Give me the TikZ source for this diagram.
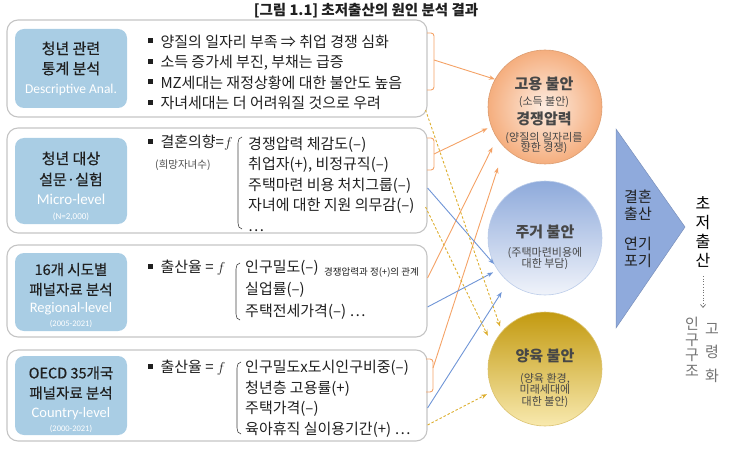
\documentclass[tikz,border=0pt]{standalone}
\usepackage{fontspec}
\setmainfont{Noto Sans CJK KR}
\newfontfamily\engfont{Carlito}
\newfontfamily\boxfont[FakeBold=0.5]{Noto Sans CJK KR}
\usetikzlibrary{arrows.meta,positioning,calc}

\definecolor{srcblue}{HTML}{A9CDE4}
\definecolor{panelgray}{HTML}{C4C4C4}
\definecolor{linkorange}{HTML}{F4A266}
\definecolor{linkblue}{HTML}{6F95D6}
\definecolor{linkgold}{HTML}{DDAE2E}
\definecolor{jobout}{HTML}{F5AE7E}
\definecolor{jobin}{HTML}{FDEDE2}
\definecolor{houtop}{HTML}{8EAADB}
\definecolor{houbot}{HTML}{F0F3FA}
\definecolor{kidtop}{HTML}{C39A10}
\definecolor{kidbot}{HTML}{F8E9AE}
\definecolor{trifill}{HTML}{8FAADC}

\newcommand{\bul}{\rule[0.28em]{0.32em}{0.32em}\hspace{0.5em}}
\newcommand{\bigb}{\fontsize{15}{17}\selectfont\bfseries}
\newcommand{\tightlines}{\setlength{\lineskiplimit}{-20pt}}

\begin{document}
\begin{tikzpicture}[x=1pt, y=-1pt,
  >={Stealth[length=6pt,width=4.5pt]},
  every node/.style={inner sep=0pt, text=black!88},
  panel/.style={draw=panelgray, line width=1.1pt, rounded corners=11pt, minimum width=420pt},
  srcbox/.style={fill=srcblue, rounded corners=9pt, minimum width=112pt},
  srctext/.style={align=center, font=\boxfont\fontsize{14.5}{20}\selectfont},
  listtext/.style={anchor=west, align=left, font=\fontsize{15}{20.5}\selectfont},
  smalltext/.style={anchor=west, font=\fontsize{10}{12}\selectfont},
  cause/.style={circle, minimum size=114pt, line width=0.6pt},
  ctext/.style={align=center, font=\fontsize{11}{11}\selectfont\tightlines, text=black!72},
  orangelink/.style={draw=linkorange, line width=0.9pt},
  bluelink/.style={->, draw=linkblue, line width=0.9pt},
  goldlink/.style={->, draw=linkgold, line width=0.9pt, dash pattern=on 2.5pt off 2pt},
  paren/.style={draw=black!75, line width=0.6pt}
]
\useasboundingbox (0,0) rectangle (730,457);

% title
\node[font=\fontsize{14.5}{16}\selectfont\bfseries] (title) at (366,11) {[그림 1.1] 초저출산의 원인 분석 결과};

% panels
\node[panel, minimum height=97pt] (p1) at (217,68.5) {};
\node[panel, minimum height=105pt] (p2) at (217,180.5) {};
\node[panel, minimum height=92pt] (p3) at (217,291) {};
\node[panel, minimum height=91pt] (p4) at (217,395.5) {};

% data source boxes
\node[srcbox, minimum height=79pt] (s1) at (71,68.5) {};
\node[srctext, font=\boxfont\fontsize{15}{20}\selectfont] (s1t) at (71,68.5) {청년 관련\\통계 분석\\[-1pt]{\engfont\fontsize{13.5}{15}\selectfont\color{white}Descriptive Anal.}};
\node[srcbox, minimum height=86pt] (s2) at (71,181) {};
\node[srctext, font=\boxfont\fontsize{15}{21}\selectfont] (s2t) at (71,186) {청년 대상\\설문·실험\\[-2pt]{\engfont\color{white}Micro-level}\\[-6pt]{\engfont\fontsize{9}{10}\selectfont\color{white}(N=2,000)}};
\node[srcbox, minimum height=78pt] (s3) at (71,292) {};
\node[srctext] (s3t) at (71,295.5) {16개 시도별\\패널자료 분석\\[-2pt]{\engfont\color{white}Regional-level}\\[-6pt]{\engfont\fontsize{8.5}{9}\selectfont\color{white}(2005-2021)}};
\node[srcbox, minimum height=79pt] (s4) at (71,395.5) {};
\node[srctext] (s4t) at (71,399.5) {OECD 35개국\\패널자료 분석\\[-1pt]{\engfont\color{white}Country-level}\\[-6pt]{\engfont\fontsize{8.5}{9}\selectfont\color{white}(2000-2021)}};

% panel 1
\node[listtext] (t1) at (148,72.5) {\bul 양질의 일자리 부족 ⇒ 취업 경쟁 심화\\\bul 소득 증가세 부진, 부채는 급증\\\bul MZ세대는 재정상황에 대한 불안도 높음\\\bul 자녀세대는 더 어려워질 것으로 우려};

% panel 2
\node[listtext] (f2) at (148,143) {\bul 결혼의향=$f$};
\node[smalltext, font=\fontsize{10.5}{12}\selectfont, text=black!70] (f2n) at (155,165) {(희망자녀수)};
\node[listtext] (t2) at (248,184) {경쟁압력 체감도(–)\\취업자(+), 비정규직(–)\\주택마련 비용 처치그룹(–)\\자녀에 대한 지원 의무감(–)\\…};
\draw[paren] (242,137) to[out=180,in=90] (238,143) -- (238,223) to[out=-90,in=180] (242,229);

% panel 3
\node[listtext] (f3) at (148,268) {\bul 출산율 = $f$};
\node[listtext, font=\fontsize{15}{22}\selectfont] (t3) at (245,290) {인구밀도(–)\\실업률(–)\\주택전세가격(–) …};
\node[smalltext, font=\fontsize{9.5}{11}\selectfont] (t3n) at (324,273) {경쟁압력과 정(+)의 관계};
\draw[paren] (240,263) to[out=180,in=90] (236,269) -- (236,314) to[out=-90,in=180] (240,320);

% panel 4
\node[listtext] (f4) at (148,368) {\bul 출산율 = $f$};
\node[listtext] (t4) at (245,399) {인구밀도x도시인구비중(–)\\청년층 고용률(+)\\주택가격(–)\\육아휴직 실이용기간(+) …};
\draw[paren] (241,362) to[out=180,in=90] (237,368) -- (237,428) to[out=-90,in=180] (241,434);

% brackets
\draw[orangelink, rounded corners=3pt] (427,33) -- (434,33) -- (434,90) -- (427,90);
\coordinate (b1) at (434,60);
\draw[orangelink, rounded corners=3pt] (427,138) -- (434,138) -- (434,170) -- (427,170);
\coordinate (b2) at (434,154);
\draw[orangelink, rounded corners=3pt] (426,359) -- (433,359) -- (433,392) -- (426,392);
\coordinate (b4) at (433,368);

% causes
\node[cause, inner color=jobin, outer color=jobout, draw=jobout!90!black] (c1) at (545,107) {};
\node[cause, top color=houtop, bottom color=houbot, draw=houtop!60] (c2) at (545,238) {};
\node[cause, top color=kidtop, bottom color=kidbot, draw=kidtop!60] (c3) at (545,369) {};
\node[ctext] (c1t) at (544,115.4) {{\bigb 고용 불안}\\[4.3pt](소득 불안)\\[8.7pt]{\bigb 경쟁압력}\\[5.3pt](양질의 일자리를\\[-1pt]향한 경쟁)};
\node[ctext] (c2t) at (545,247) {{\bigb 주거 불안}\\[8.3pt](주택마련비용에\\대한 부담)};
\node[ctext] (c3t) at (545,378.4) {{\bigb 양육 불안}\\[9.3pt](양육 환경,\\[0.5pt]미래세대에\\[0.5pt]대한 불안)};

% links
\draw[orangelink, ->] (b1) -- (c1.151);
\draw[orangelink, ->, shorten >=4pt] (b2) -- (c1.200);
\draw[orangelink, ->, shorten >=10pt] ([yshift=13pt]p3.east) -- (c1.213);
\draw[orangelink, ->, shorten >=21pt] (b4) -- (c1.225);
\draw[bluelink] ([yshift=-7.5pt]p2.east) -- (c2.207);
\draw[bluelink, shorten >=5pt] ([yshift=-16pt]p3.east) -- (c2.214);
\draw[bluelink, shorten >=12pt] ([yshift=-12.5pt]p4.east) -- (c2.230);
\draw[goldlink, shorten >=5pt] ([xshift=-2pt,yshift=-41.5pt]p1.east) -- (c3.139.5);
\draw[goldlink, shorten >=11pt] ([xshift=-2pt,yshift=-26.5pt]p2.east) -- (c3.156);
\draw[goldlink, shorten >=6pt] ([yshift=-29.5pt]p4.east) -- (c3.203);

% result
\draw[fill=trifill, draw=trifill!85!black, line width=0.5pt] (616,129) -- (685,227) -- (616,328) -- cycle;
\node[align=center, font=\fontsize{15}{17}\selectfont] (delay) at (638,229) {결혼\\출산\\[13pt]연기\\포기};
\node[align=center, font=\fontsize{16}{19.3}\selectfont, text=black] (lowb) at (703,232) {초\\저\\출\\산};
\coordinate (agetop) at (703,308);
\node[align=center, font=\fontsize{15}{15.6}\selectfont, text=black!55] (age1) at (692,347) {인\\구\\구\\조};
\node[align=center, font=\fontsize{15}{23.5}\selectfont, text=black!55] (age2) at (712,353) {고\\령\\화};
\draw[->, >={Straight Barb[length=3pt,width=5pt]}, black!55, dotted, line width=0.7pt, shorten <=8pt] (lowb.south) -- (agetop);
\end{tikzpicture}
\end{document}
